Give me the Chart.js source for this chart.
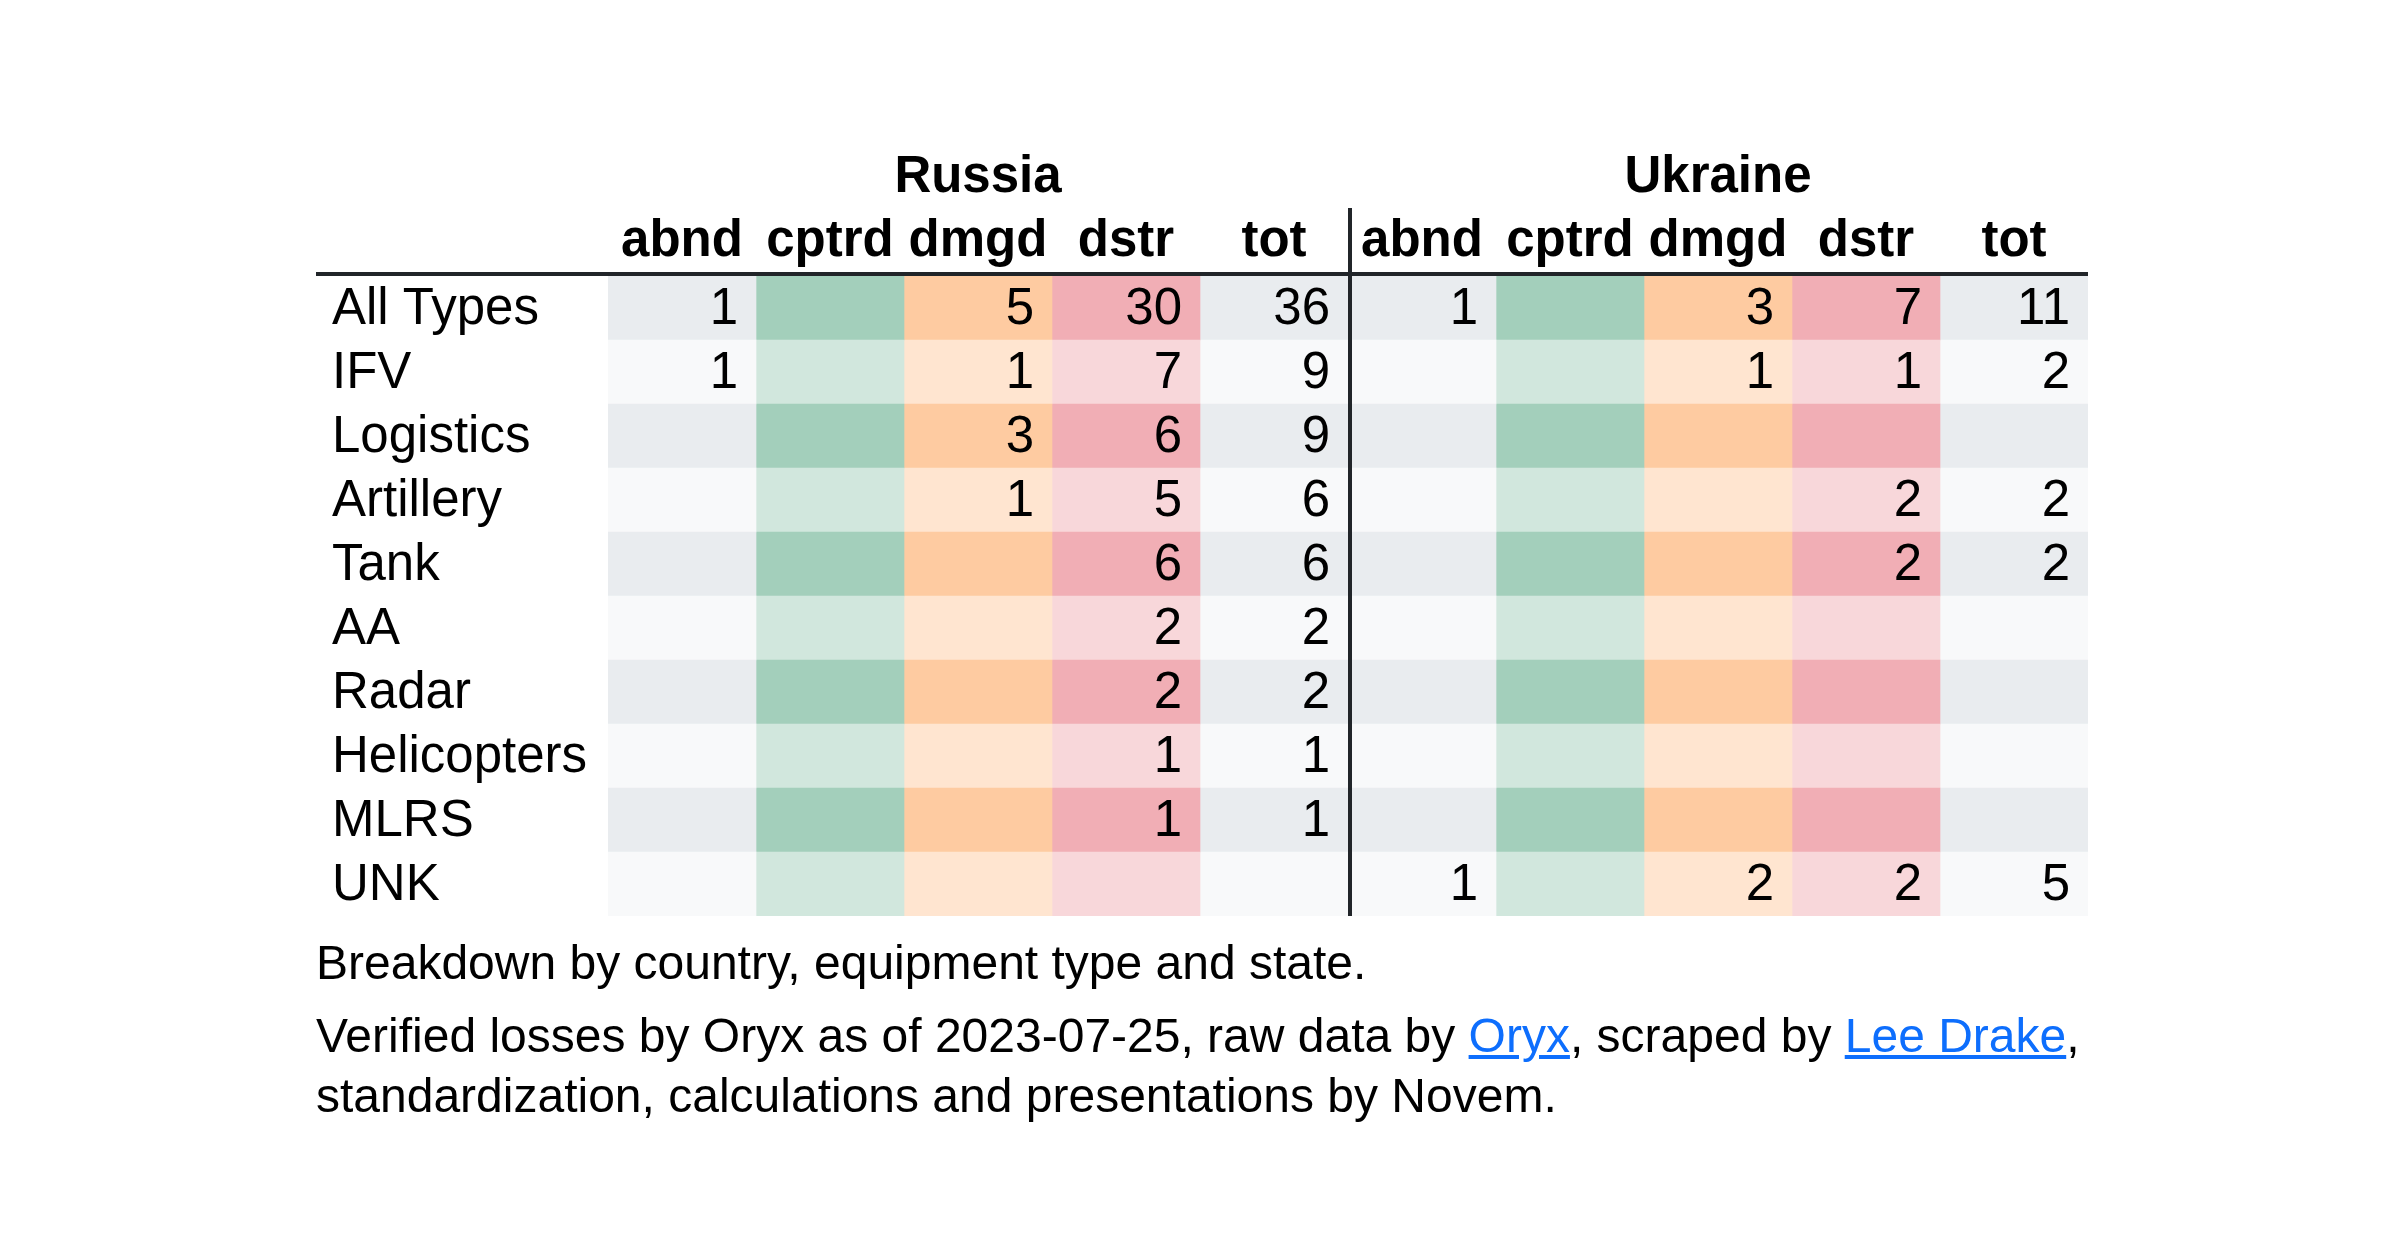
<!DOCTYPE html>
<html lang="en">

<head>
  <meta charset="UTF-8">
  <title>Oryx losses breakdown</title>
  <style>
    body {
      margin: 0;
      background: #fff;
      font-family: "Liberation Sans", Arial, sans-serif;
      color: #000;
    }

    .wrap {
      position: relative;
      width: 2400px;
      height: 1256px;
    }

    #losses {
      position: absolute;
      left: 0;
      top: 0;
    }

    .caption {
      position: absolute;
      left: 316px;
      top: 933px;
      width: 1820px;
      font-size: 48px;
      line-height: 60px;
    }

    .caption p {
      margin: 0 0 13px 0;
    }

    .caption a {
      color: #0d6efd;
    }
  </style>
</head>

<body>
  <div class="wrap">
    <canvas id="losses" width="2400" height="1256"></canvas>
    <div class="caption">
      <p>Breakdown by country, equipment type and state.</p>
      <p>Verified losses by Oryx as of 2023-07-25, raw data by <a href="#">Oryx</a>, scraped by <a href="#">Lee Drake</a>,<br>standardization, calculations and presentations by Novem.</p>
    </div>
  </div>

  <script src="https://cdn.jsdelivr.net/npm/chart.js@4.4.1/dist/chart.umd.min.js"></script>
  <script>
    // rows and column groups
    const categories = ['All Types', 'IFV', 'Logistics', 'Artillery', 'Tank', 'AA', 'Radar', 'Helicopters', 'MLRS', 'UNK'];
    const states = ['abnd', 'cptrd', 'dmgd', 'dstr', 'tot'];
    const countries = ['Russia', 'Ukraine'];

    // Russia
    const ruAbnd = [1, 1, null, null, null, null, null, null, null, null];
    const ruCptrd = [null, null, null, null, null, null, null, null, null, null];
    const ruDmgd = [5, 1, 3, 1, null, null, null, null, null, null];
    const ruDstr = [30, 7, 6, 5, 6, 2, 2, 1, 1, null];
    const ruTot = [36, 9, 9, 6, 6, 2, 2, 1, 1, null];

    // Ukraine
    const uaAbnd = [1, null, null, null, null, null, null, null, null, 1];
    const uaCptrd = [null, null, null, null, null, null, null, null, null, null];
    const uaDmgd = [3, 1, null, null, null, null, null, null, null, 2];
    const uaDstr = [7, 1, null, 2, 2, null, null, null, null, 2];
    const uaTot = [11, 2, null, 2, 2, null, null, null, null, 5];

    const columns = [ruAbnd, ruCptrd, ruDmgd, ruDstr, ruTot, uaAbnd, uaCptrd, uaDmgd, uaDstr, uaTot];

    // fills per state, striped rows
    const darkFill = ['#e9ecef', '#a3cfbb', '#fecba1', '#f1aeb5', '#e9ecef'];
    const lightFill = ['#f8f9fa', '#d1e7dd', '#ffe5d0', '#f8d7da', '#f8f9fa'];

    const FONT = '"Liberation Sans", Arial, sans-serif';
    const INK = '#000';
    const RULE = '#212529';

    const datasets = columns.map(function (values, k) {
      return {
        label: countries[Math.floor(k / states.length)] + ' ' + states[k % states.length],
        data: categories.map(function () { return 1; }), // one unit wide cell
        values: values,
        backgroundColor: function (ctx) {
          return ctx.dataIndex % 2 ? lightFill[k % 5] : darkFill[k % 5];
        },
        borderWidth: 0,
        categoryPercentage: 1,
        barPercentage: 1,
        stack: 'table'
      };
    });

    const tableText = {
      id: 'tableText',
      afterDraw: function (chart) {
        const ctx = chart.ctx;
        const area = chart.chartArea;
        const x = chart.scales.x;
        const y = chart.scales.y;
        const tableLeft = area.left - 292;
        ctx.save();

        // cell values
        ctx.fillStyle = INK;
        ctx.font = '51px ' + FONT;
        ctx.textAlign = 'right';
        ctx.textBaseline = 'alphabetic';
        chart.data.datasets.forEach(function (ds, k) {
          const meta = chart.getDatasetMeta(k);
          meta.data.forEach(function (bar, i) {
            const v = ds.values[i];
            if (v === null || v === undefined) return;
            ctx.fillText(String(v), bar.x - 18, bar.y + 16);
          });
        });

        // row labels
        ctx.textAlign = 'left';
        categories.forEach(function (name, i) {
          ctx.fillText(name, tableLeft + 16, y.getPixelForValue(i) + 16);
        });

        // column headers
        ctx.font = 'bold 51px ' + FONT;
        ctx.textAlign = 'center';
        columns.forEach(function (col, k) {
          ctx.fillText(states[k % 5], x.getPixelForValue(k + 0.5), area.top - 20);
        });
        countries.forEach(function (name, c) {
          ctx.fillText(name, x.getPixelForValue(c * 5 + 2.5), area.top - 84);
        });

        // rules
        ctx.fillStyle = RULE;
        ctx.fillRect(tableLeft, area.top - 4, area.right - tableLeft, 4);
        const split = x.getPixelForValue(5);
        ctx.fillRect(split, area.top - 68, 4, area.bottom - area.top + 68);

        ctx.restore();
      }
    };

    const chart = new Chart(document.getElementById('losses'), {
      type: 'bar',
      data: {
        labels: categories,
        datasets: datasets
      },
      options: {
        indexAxis: 'y',
        responsive: false,
        devicePixelRatio: 1,
        animation: false,
        layout: {
          padding: { left: 608, right: 312, top: 276, bottom: 340 }
        },
        scales: {
          x: { type: 'linear', stacked: true, min: 0, max: 10, display: false },
          y: { type: 'category', stacked: true, display: false }
        },
        plugins: {
          legend: { display: false },
          tooltip: { enabled: false }
        }
      },
      plugins: [tableText]
    });
  </script>
</body>

</html>
